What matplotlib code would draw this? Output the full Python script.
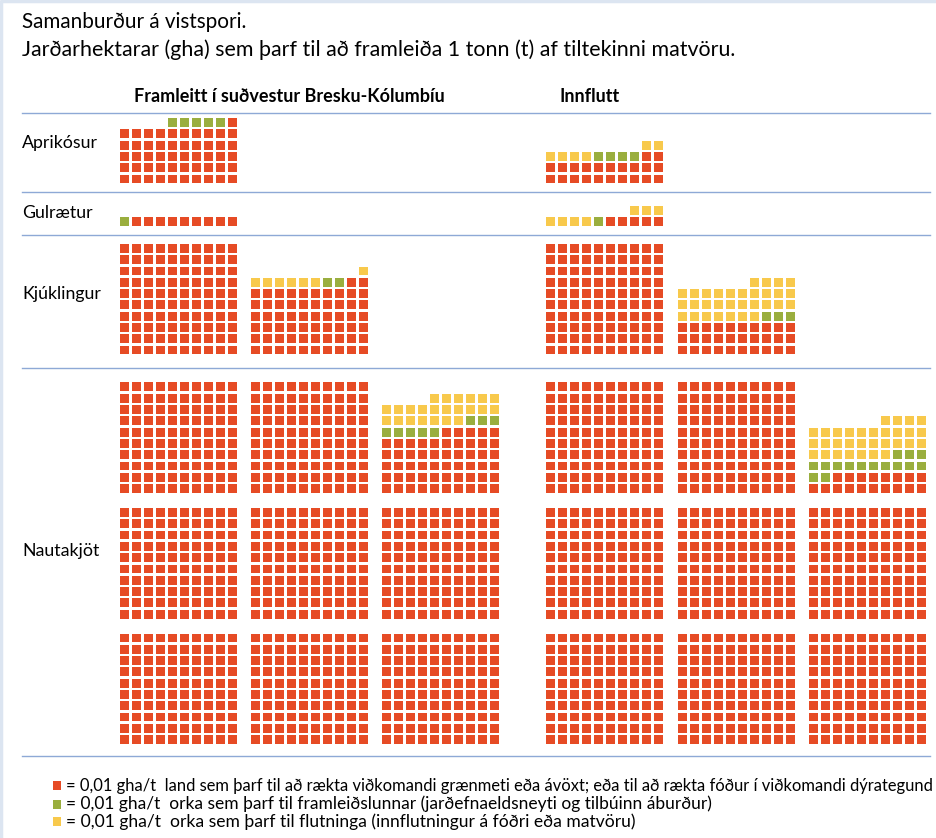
import matplotlib
matplotlib.use("Agg")
import matplotlib.pyplot as plt
from matplotlib.patches import Rectangle
from matplotlib.collections import PatchCollection

plt.rcParams['font.family'] = ['Lato', 'DejaVu Sans']

# ---------------- data (number of 0.01 gha/t squares) ----------------
categories = ["Aprikósur", "Gulrætur", "Kjúklingur", "Nautakjöt"]
origins = ["Framleitt í suðvestur Bresku-Kólumbíu", "Innflutt"]
local_land = [51, 9, 162, 855]
local_energy = [5, 1, 2, 8]
local_transport = [0, 0, 7, 23]
imported_land = [22, 5, 130, 818]
imported_energy = [4, 1, 3, 15]
imported_transport = [6, 7, 31, 31]
title_lines = ["Samanburður á vistspori.",
               "Jarðarhektarar (gha) sem þarf til að framleiða 1 tonn (t) af tiltekinni matvöru."]
legend_labels = [
    "= 0,01 gha/t  land sem þarf til að rækta viðkomandi grænmeti eða ávöxt; eða til að rækta fóður í viðkomandi dýrategund",
    "= 0,01 gha/t  orka sem þarf til framleiðslunnar (jarðefnaeldsneyti og tilbúinn áburður)",
    "= 0,01 gha/t  orka sem þarf til flutninga (innflutningur á fóðri eða matvöru)",
]

# ---------------- style / layout ----------------
colors = ["#E64B25", "#9AAE3E", "#F8C94C"]
line_color = "#8EA9D6"
W, H = 937, 838
PX, PY = 11.95, 11.3     # cell pitch
SW, SH = 9.3, 8.8        # square size
block_lefts = [[120, 251, 382], [546, 678, 809]]
block_bottoms = [[183.5], [226], [354.5], [744, 618.5, 493]]
label_y = [143, 213, 294, 551]
sep_y = [113, 192, 235, 368, 756]

fig = plt.figure(figsize=(W / 100, H / 100), dpi=100)
ax = fig.add_axes([0, 0, 1, 1])
ax.set_xlim(0, W)
ax.set_ylim(H, 0)
ax.axis('off')

fig.canvas.draw()
renderer = fig.canvas.get_renderer()


def fit_text(x, y, s, target_w, size0, **kw):
    t = ax.text(x, y, s, fontsize=size0, va='center', ha='left', **kw)
    w = t.get_window_extent(renderer).width
    t.set_fontsize(size0 * target_w / w)
    return t


# frame
ax.plot([1.5, 1.5], [0, H], color="#DCE5F1", lw=2.5, solid_capstyle='butt')
ax.plot([0, W], [1.5, 1.5], color="#DCE5F1", lw=2.5, solid_capstyle='butt')

# titles
fit_text(22, 22, title_lines[0], 223, 13)
fit_text(22, 50, title_lines[1], 711, 13)

# headers
fit_text(134, 97, origins[0], 309, 11.5, fontweight='bold')
fit_text(560, 97, origins[1], 60, 11.5, fontweight='bold')

# separators
for y in sep_y:
    ax.plot([22, 930], [y, y], color=line_color, lw=1.0)

# row labels
ref = fit_text(22, label_y[2], categories[2], 79, 12)
for lab, y in zip(categories, label_y):
    if lab == categories[2]:
        continue
    ax.text(22, y, lab, fontsize=ref.get_fontsize(), va='center', ha='left')

# waffles
series = [
    [local_land, local_energy, local_transport],
    [imported_land, imported_energy, imported_transport],
]
for o in range(2):
    for c in range(len(categories)):
        seq = []
        for kind in range(3):
            seq += [kind] * series[o][kind][c]
        rects, cols = [], []
        for k, kind in enumerate(seq):
            b, r = divmod(k, 100)
            brow, bcol = divmod(b, 3)
            row, cc = divmod(r, 10)
            col = 9 - cc
            x = block_lefts[o][bcol] + col * PX
            yb = block_bottoms[c][brow] - row * PY
            rects.append(Rectangle((x, yb - SH), SW, SH))
            cols.append(colors[kind])
        pc = PatchCollection(rects, facecolors=cols, edgecolors='none')
        ax.add_collection(pc)

# legend
leg_y = [785.5, 804, 821.5]
leg_w = [868, 647, 571]
for i, (lab, y, w) in enumerate(zip(legend_labels, leg_y, leg_w)):
    ax.add_patch(Rectangle((53, y - 4.5), 8, 9, facecolor=colors[i], edgecolor='none'))
    fit_text(66, y, lab, w, 11)

fig.savefig("out.png", dpi=100, facecolor='white')
